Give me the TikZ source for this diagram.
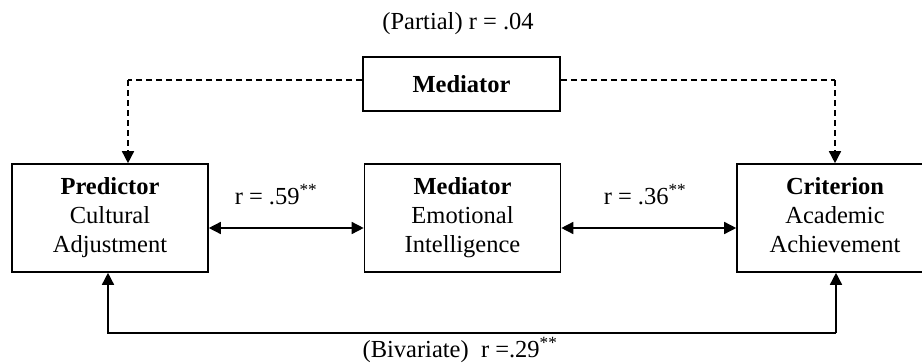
\documentclass[tikz,border=0pt]{standalone}
\usepackage{fontspec}
\setmainfont{Liberation Serif}
\usetikzlibrary{arrows.meta}
\begin{document}
\begin{tikzpicture}[x=1pt,y=1pt,
  every node/.style={font=\fontsize{24.5}{29}\selectfont},
  varbox/.style={draw,line width=1.6pt,minimum width=196pt,minimum height=108pt,inner sep=0pt,align=center},
  topbox/.style={draw,line width=1.6pt,minimum width=197pt,minimum height=54pt,inner sep=0pt},
  conn/.style={line width=1.5pt,-{Triangle[length=12pt,width=12pt]}},
  dconn/.style={conn,dash pattern=on 6pt off 4pt},
  dconnl/.style={line width=1.5pt,dash pattern=on 6pt off 4pt},
  both/.style={line width=1.5pt,{Triangle[length=12pt,width=12pt]}-{Triangle[length=12pt,width=12pt]}},
  lbl/.style={inner sep=0pt}
]
\useasboundingbox (0,0) rectangle (922,-364);
\node[topbox] (top) at (461.5,-84) {\textbf{Mediator}};
\node[lbl] (partial) at (458,-24) {(Partial) r = .04};
\node[varbox] (pred) at (110,-218) {\strut\textbf{Predictor}\\Cultural\\Adjustment\strut};
\node[varbox] (med) at (462.5,-218) {\strut\textbf{Mediator}\\Emotional\\Intelligence\strut};
\node[varbox] (crit) at (835,-218) {\strut\textbf{Criterion}\\Academic\\Achievement\strut};
\coordinate (dl) at (128,-80);
\coordinate (dr) at (835,-80);
\coordinate (bl) at (108,-333);
\coordinate (br) at (836,-333);
\draw[dconnl] (top.west |- dl) -- (dl);
\draw[dconn] (dl) -- (dl |- pred.north);
\draw[dconnl] (top.east |- dr) -- (dr);
\draw[dconn] (dr) -- (dr |- crit.north);
\draw[both] ([yshift=-10pt]pred.east) -- ([yshift=-10pt]med.west);
\draw[both] ([yshift=-10pt]med.east) -- ([yshift=-10pt]crit.west);
\draw[conn] (br) -- (bl) -- (bl |- pred.south);
\draw[conn] (br) -- (br |- crit.south);
\node[lbl] (r59) at (276,-195) {r = .59\textsuperscript{**}};
\node[lbl] (r36) at (645,-195) {r = .36\textsuperscript{**}};
\node[lbl] (biv) at (460,-350) {(Bivariate)\ \ r =.29\textsuperscript{**}};
\end{tikzpicture}
\end{document}
